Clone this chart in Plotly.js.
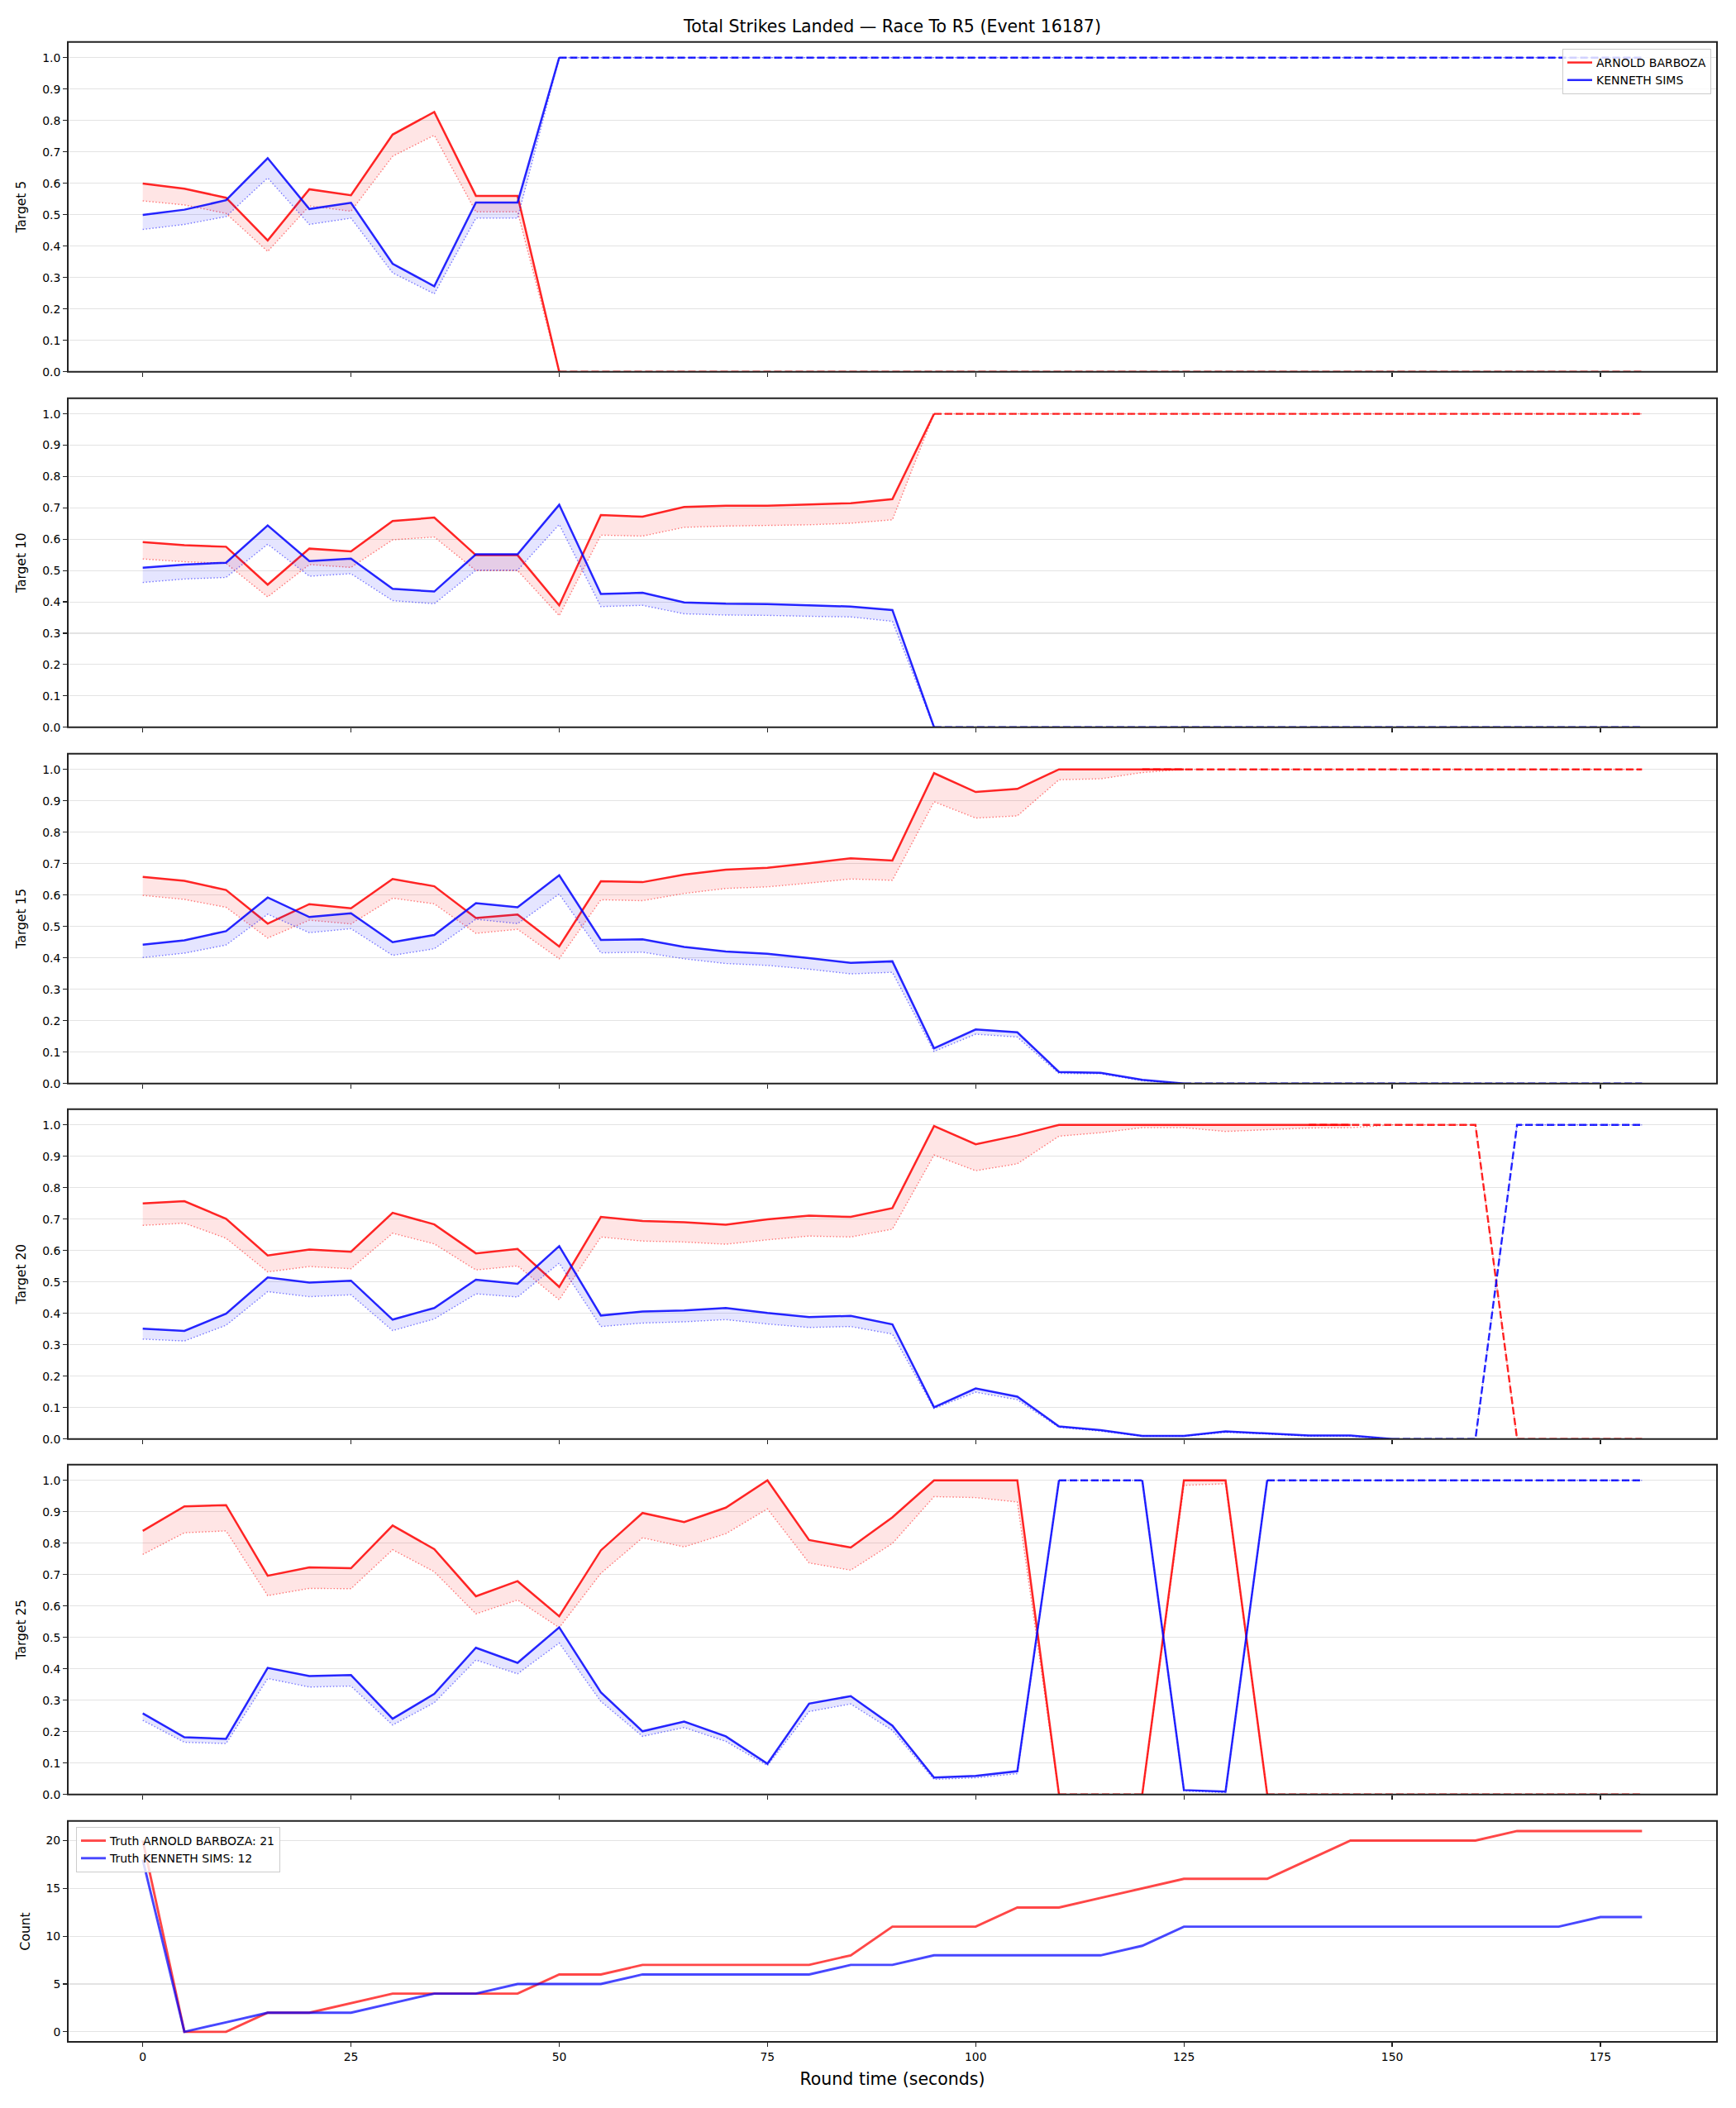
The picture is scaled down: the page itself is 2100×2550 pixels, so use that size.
<!DOCTYPE html>
<html>
<head>
<meta charset="utf-8">
<script src="https://cdn.plot.ly/plotly-3.0.1.min.js"></script>
<style>
  html, body { margin: 0; padding: 0; background: #ffffff; }
  #chart { width: 2100px; height: 2550px; }
</style>
</head>
<body>
<div id="chart"></div>
<script>
// ---- Round time grid (seconds) ----
const times = [0, 5, 10, 15, 20, 25, 30, 35, 40, 45, 50, 55, 60, 65, 70, 75, 80, 85, 90,
  95, 100, 105, 110, 115, 120, 125, 130, 135, 140, 145, 150, 155, 160, 165, 170, 175, 180];

const redName = 'ARNOLD BARBOZA';
const blueName = 'KENNETH SIMS';
const targets = [5, 10, 15, 20, 25];
const xTicks = [0, 25, 50, 75, 100, 125, 150, 175];
const probTicks = [0, 0.1, 0.2, 0.3, 0.4, 0.5, 0.6, 0.7, 0.8, 0.9, 1.0];
const countTicks = [0, 5, 10, 15, 20];

// ---- Target 5: win probability, lower band, settled outcome ----
const t5RedProb = [0.599, 0.583, 0.554, 0.418, 0.581, 0.562, 0.755, 0.827, 0.560, 0.560, 0.000];
const t5RedLow = [0.544, 0.531, 0.504, 0.383, 0.528, 0.511, 0.686, 0.753, 0.509, 0.509, 0.000,
  0, 0, 0, 0, 0, 0, 0, 0, 0, 0, 0, 0, 0, 0, 0, 0, 0, 0, 0, 0, 0, 0, 0, 0, 0, 0];
const t5RedSettled = [null, null, null, null, null, null, null, null, null, null,
  0, 0, 0, 0, 0, 0, 0, 0, 0, 0, 0, 0, 0, 0, 0, 0, 0, 0, 0, 0, 0, 0, 0, 0, 0, 0, 0];
const t5BlueProb = [0.499, 0.516, 0.546, 0.680, 0.518, 0.538, 0.344, 0.272, 0.539, 0.539, 1.000];
const t5BlueLow = [0.453, 0.469, 0.494, 0.617, 0.469, 0.489, 0.315, 0.248, 0.489, 0.489, 1.000,
  1, 1, 1, 1, 1, 1, 1, 1, 1, 1, 1, 1, 1, 1, 1, 1, 1, 1, 1, 1, 1, 1, 1, 1, 1, 1];
const t5BlueSettled = [null, null, null, null, null, null, null, null, null, null,
  1, 1, 1, 1, 1, 1, 1, 1, 1, 1, 1, 1, 1, 1, 1, 1, 1, 1, 1, 1, 1, 1, 1, 1, 1, 1, 1];

// ---- Target 10 ----
const t10RedProb = [0.591, 0.581, 0.576, 0.455, 0.570, 0.561, 0.658, 0.669, 0.549, 0.549, 0.389,
  0.677, 0.672, 0.703, 0.707, 0.707, 0.711, 0.715, 0.728, 1.000];
const t10RedLow = [0.537, 0.528, 0.523, 0.416, 0.519, 0.510, 0.598, 0.607, 0.500, 0.500, 0.356,
  0.613, 0.610, 0.638, 0.642, 0.643, 0.646, 0.651, 0.662, 1.000,
  1, 1, 1, 1, 1, 1, 1, 1, 1, 1, 1, 1, 1, 1, 1, 1, 1];
const t10RedSettled = [null, null, null, null, null, null, null, null, null, null,
  null, null, null, null, null, null, null, null, null,
  1, 1, 1, 1, 1, 1, 1, 1, 1, 1, 1, 1, 1, 1, 1, 1, 1, 1];
const t10BlueProb = [0.509, 0.519, 0.525, 0.644, 0.530, 0.538, 0.442, 0.433, 0.552, 0.552, 0.710,
  0.425, 0.429, 0.398, 0.394, 0.393, 0.389, 0.385, 0.374, 0.000];
const t10BlueLow = [0.462, 0.473, 0.478, 0.584, 0.482, 0.490, 0.404, 0.394, 0.501, 0.501, 0.647,
  0.385, 0.389, 0.362, 0.358, 0.357, 0.354, 0.352, 0.338, 0.000,
  0, 0, 0, 0, 0, 0, 0, 0, 0, 0, 0, 0, 0, 0, 0, 0, 0];
const t10BlueSettled = [null, null, null, null, null, null, null, null, null, null,
  null, null, null, null, null, null, null, null, null,
  0, 0, 0, 0, 0, 0, 0, 0, 0, 0, 0, 0, 0, 0, 0, 0, 0, 0];

// ---- Target 15 ----
const t15RedProb = [0.658, 0.645, 0.616, 0.509, 0.571, 0.558, 0.651, 0.628, 0.527, 0.538, 0.436,
  0.644, 0.641, 0.665, 0.681, 0.687, 0.701, 0.717, 0.710, 0.988, 0.928, 0.938,
  1.000, 1.000, 1.000, 1.000];
const t15RedLow = [0.599, 0.586, 0.561, 0.463, 0.520, 0.508, 0.590, 0.572, 0.478, 0.491, 0.397,
  0.585, 0.582, 0.605, 0.621, 0.626, 0.638, 0.651, 0.647, 0.897, 0.845, 0.852,
  0.967, 0.970, 0.990, 1.000, 1, 1, 1, 1, 1, 1, 1, 1, 1, 1, 1];
const t15RedSettled = [null, null, null, null, null, null, null, null, null, null,
  null, null, null, null, null, null, null, null, null, null, null, null, null, null,
  1, 1, 1, 1, 1, 1, 1, 1, 1, 1, 1, 1, 1];
const t15BlueProb = [0.442, 0.456, 0.485, 0.592, 0.530, 0.542, 0.450, 0.473, 0.574, 0.561, 0.663,
  0.457, 0.459, 0.435, 0.420, 0.413, 0.399, 0.384, 0.389, 0.112, 0.172, 0.163,
  0.037, 0.034, 0.012, 0.000];
const t15BlueLow = [0.401, 0.415, 0.441, 0.539, 0.480, 0.493, 0.408, 0.429, 0.523, 0.509, 0.603,
  0.416, 0.418, 0.397, 0.382, 0.376, 0.364, 0.349, 0.354, 0.102, 0.157, 0.148,
  0.032, 0.031, 0.009, 0.000, 0, 0, 0, 0, 0, 0, 0, 0, 0, 0, 0];
const t15BlueSettled = [null, null, null, null, null, null, null, null, null, null,
  null, null, null, null, null, null, null, null, null, null, null, null, null, null, null,
  0, 0, 0, 0, 0, 0, 0, 0, 0, 0, 0, 0];

// ---- Target 20 ----
const t20RedProb = [0.750, 0.757, 0.701, 0.584, 0.603, 0.596, 0.720, 0.683, 0.591, 0.605, 0.484,
  0.707, 0.694, 0.690, 0.682, 0.699, 0.711, 0.707, 0.735, 0.996, 0.938, 0.966,
  1.000, 1.000, 1.000, 1.000, 1.000, 1.000, 1.000, 1.000];
const t20RedLow = [0.680, 0.687, 0.639, 0.532, 0.549, 0.542, 0.655, 0.621, 0.538, 0.551, 0.443,
  0.643, 0.630, 0.627, 0.620, 0.634, 0.646, 0.643, 0.668, 0.904, 0.854, 0.876,
  0.964, 0.975, 0.991, 0.991, 0.979, 0.984, 0.990, 0.991, 1.000, 1.000, 1.000,
  0.000, 0.000, 0.000, 0.000];
const t20RedSettled = [null, null, null, null, null, null, null, null, null, null,
  null, null, null, null, null, null, null, null, null, null, null, null, null, null,
  null, null, null, null, 1, 1, 1, 1, 1, 0, 0, 0, 0];
const t20BlueProb = [0.351, 0.344, 0.399, 0.514, 0.498, 0.504, 0.380, 0.417, 0.507, 0.494, 0.614,
  0.393, 0.406, 0.409, 0.417, 0.401, 0.388, 0.392, 0.365, 0.101, 0.161, 0.135,
  0.040, 0.028, 0.010, 0.010, 0.024, 0.018, 0.011, 0.011, 0.000];
const t20BlueLow = [0.318, 0.312, 0.362, 0.469, 0.453, 0.459, 0.345, 0.382, 0.462, 0.452, 0.560,
  0.358, 0.369, 0.373, 0.380, 0.366, 0.355, 0.358, 0.334, 0.097, 0.149, 0.125,
  0.037, 0.025, 0.009, 0.009, 0.021, 0.016, 0.009, 0.009, 0.000, 0.000, 0.000,
  1.000, 1.000, 1.000, 1.000];
const t20BlueSettled = [null, null, null, null, null, null, null, null, null, null,
  null, null, null, null, null, null, null, null, null, null, null, null, null, null,
  null, null, null, null, null, null, 0, 0, 0, 1, 1, 1, 1];

// ---- Target 25 ----
const t25RedProb = [0.839, 0.917, 0.921, 0.696, 0.723, 0.720, 0.856, 0.781, 0.631, 0.679, 0.567,
  0.777, 0.896, 0.867, 0.913, 1.000, 0.810, 0.786, 0.882, 1.000, 1.000, 1.000,
  0.000, null, 0.000, 1.000, 1.000, 0.000];
const t25RedLow = [0.764, 0.833, 0.839, 0.633, 0.656, 0.655, 0.779, 0.709, 0.575, 0.619, 0.531,
  0.704, 0.817, 0.788, 0.830, 0.909, 0.737, 0.714, 0.799, 0.948, 0.945, 0.931,
  0.000, 0.000, 0.000, 0.984, 0.989, 0.000, 0, 0, 0, 0, 0, 0, 0, 0, 0];
const t25RedSettled = [null, null, null, null, null, null, null, null, null, null,
  null, null, null, null, null, null, null, null, null, null, null, null,
  0, 0, 0, null, null, 0, 0, 0, 0, 0, 0, 0, 0, 0, 0];
const t25BlueProb = [0.258, 0.182, 0.177, 0.403, 0.377, 0.380, 0.241, 0.320, 0.467, 0.419, 0.532,
  0.325, 0.201, 0.232, 0.185, 0.098, 0.289, 0.313, 0.219, 0.054, 0.059, 0.074,
  1.000, null, 1.000, 0.014, 0.009, 1.000];
const t25BlueLow = [0.236, 0.166, 0.162, 0.369, 0.342, 0.345, 0.221, 0.292, 0.428, 0.384, 0.482,
  0.296, 0.185, 0.213, 0.169, 0.092, 0.264, 0.288, 0.204, 0.048, 0.053, 0.066,
  1.000, 1.000, 1.000, 0.011, 0.006, 1.000, 1, 1, 1, 1, 1, 1, 1, 1, 1];
const t25BlueSettled = [null, null, null, null, null, null, null, null, null, null,
  null, null, null, null, null, null, null, null, null, null, null, null,
  1, 1, 1, null, null, 1, 1, 1, 1, 1, 1, 1, 1, 1, 1];

// ---- Cumulative landed strikes (truth) ----
const truthRed = [20, 0, 0, 2, 2, 3, 4, 4, 4, 4, 6, 6, 7, 7, 7, 7, 7, 8, 11, 11, 11, 13, 13, 14,
  15, 16, 16, 16, 18, 20, 20, 20, 20, 21, 21, 21, 21];
const truthBlue = [18, 0, 1, 2, 2, 2, 3, 4, 4, 5, 5, 5, 6, 6, 6, 6, 6, 7, 7, 8, 8, 8, 8, 8,
  9, 11, 11, 11, 11, 11, 11, 11, 11, 11, 11, 12, 12];

// ---- Styling ----
const FONT = 'DejaVu Sans, Liberation Sans, Arial, sans-serif';
const INK = '#222222';
const style = {
  red:  { line: 'rgba(255,0,0,0.85)', dotted: 'rgba(255,0,0,0.5)', band: 'rgba(255,0,0,0.10)', truth: 'rgba(255,0,0,0.72)' },
  blue: { line: 'rgba(0,0,255,0.85)', dotted: 'rgba(0,0,255,0.5)', band: 'rgba(0,0,255,0.10)', truth: 'rgba(0,0,255,0.72)' }
};

const panels = [
  { target: targets[0], red: [t5RedProb, t5RedLow, t5RedSettled], blue: [t5BlueProb, t5BlueLow, t5BlueSettled] },
  { target: targets[1], red: [t10RedProb, t10RedLow, t10RedSettled], blue: [t10BlueProb, t10BlueLow, t10BlueSettled] },
  { target: targets[2], red: [t15RedProb, t15RedLow, t15RedSettled], blue: [t15BlueProb, t15BlueLow, t15BlueSettled] },
  { target: targets[3], red: [t20RedProb, t20RedLow, t20RedSettled], blue: [t20BlueProb, t20BlueLow, t20BlueSettled] },
  { target: targets[4], red: [t25RedProb, t25RedLow, t25RedSettled], blue: [t25BlueProb, t25BlueLow, t25BlueSettled] }
];

// Closed band polygons between the probability line and its lower bound,
// one polygon per run of points where both are present.
function bandShape(xs, hi, lo) {
  const bx = [], by = [];
  let i = 0;
  const n = xs.length;
  const ok = k => hi[k] != null && lo[k] != null;
  while (i < n) {
    if (!ok(i)) { i++; continue; }
    let j = i;
    while (j + 1 < n && ok(j + 1)) j++;
    if (j > i) {
      for (let k = i; k <= j; k++) { bx.push(xs[k]); by.push(hi[k]); }
      for (let k = j; k >= i; k--) { bx.push(xs[k]); by.push(lo[k]); }
      bx.push(null); by.push(null);
    }
    i = j + 1;
  }
  return { x: bx, y: by };
}

const traces = [];
const axId = k => (k === 1 ? '' : String(k));

panels.forEach((p, idx) => {
  const k = idx + 1;
  const xa = 'x' + axId(k), ya = 'y' + axId(k);
  [['red', redName], ['blue', blueName]].forEach(([side, name]) => {
    const [prob, low, settled] = p[side];
    const c = style[side];
    const band = bandShape(times, prob, low);
    traces.push({
      x: band.x, y: band.y, xaxis: xa, yaxis: ya, type: 'scatter', mode: 'lines',
      fill: 'toself', fillcolor: c.band, line: { width: 0, color: c.band },
      showlegend: false, hoverinfo: 'skip'
    });
    traces.push({
      x: times, y: low, xaxis: xa, yaxis: ya, type: 'scatter', mode: 'lines',
      line: { color: c.dotted, width: 1.4, dash: '1.5px,2.4px' },
      showlegend: false, hoverinfo: 'skip'
    });
    traces.push({
      x: times, y: prob, xaxis: xa, yaxis: ya, type: 'scatter', mode: 'lines',
      name: name, line: { color: c.line, width: 2.5 },
      showlegend: k === 1, legend: 'legend'
    });
    traces.push({
      x: times, y: settled, xaxis: xa, yaxis: ya, type: 'scatter', mode: 'lines',
      line: { color: c.line, width: 2.4, dash: '9px,4px' },
      showlegend: false, hoverinfo: 'skip'
    });
  });
});

// Bottom panel: observed cumulative counts
traces.push({
  x: times, y: truthRed, xaxis: 'x6', yaxis: 'y6', type: 'scatter', mode: 'lines',
  name: 'Truth ' + redName + ': ' + truthRed[truthRed.length - 1],
  line: { color: style.red.truth, width: 2.9 }, legend: 'legend2', showlegend: true
});
traces.push({
  x: times, y: truthBlue, xaxis: 'x6', yaxis: 'y6', type: 'scatter', mode: 'lines',
  name: 'Truth ' + blueName + ': ' + truthBlue[truthBlue.length - 1],
  line: { color: style.blue.truth, width: 2.9 }, legend: 'legend2', showlegend: true
});

// ---- Layout: six stacked panels sharing the time axis ----
const W = 2100, H = 2550;
const plotLeft = 82, plotRight = 2077;
const tops = [50.7, 481.7, 911.7, 1341.7, 1771.7, 2202.8];
const bottoms = [449.7, 879.7, 1310.7, 1740.7, 2170.7, 2470];

const layout = {
  width: W, height: H,
  margin: { l: 0, r: 0, t: 0, b: 0, pad: 0 },
  paper_bgcolor: '#ffffff', plot_bgcolor: '#ffffff',
  font: { family: FONT, size: 14, color: '#000000' },
  hovermode: false,
  title: {
    text: 'Total Strikes Landed \u2014 Race To R5 (Event 16187)',
    x: (plotLeft + plotRight) / 2 / W, xanchor: 'center', xref: 'paper',
    y: 1 - 32 / H, yanchor: 'middle', yref: 'container',
    font: { family: FONT, size: 20.5, color: '#000000' }
  },
  legend: {
    x: 2070 / W, xanchor: 'right', y: 1 - 59 / H, yanchor: 'top',
    bgcolor: 'rgba(255,255,255,0.8)', bordercolor: '#cccccc', borderwidth: 1,
    font: { family: FONT, size: 14, color: '#000000' }, tracegroupgap: 0
  },
  legend2: {
    x: 92 / W, xanchor: 'left', y: 1 - 2210 / H, yanchor: 'top',
    bgcolor: 'rgba(255,255,255,0.8)', bordercolor: '#cccccc', borderwidth: 1,
    font: { family: FONT, size: 14, color: '#000000' }, tracegroupgap: 0
  },
  shapes: []
};

for (let k = 1; k <= 6; k++) {
  const isCount = k === 6;
  layout['xaxis' + axId(k)] = {
    domain: [plotLeft / W, plotRight / W],
    anchor: 'y' + axId(k),
    range: [-9, 189],
    tickmode: 'array', tickvals: xTicks,
    showticklabels: isCount,
    ticks: 'outside', ticklen: 5, tickwidth: 1.2, tickcolor: INK,
    tickfont: { family: FONT, size: 13.9, color: '#000000' },
    showline: false, showgrid: false, zeroline: false,
    title: isCount ? { text: 'Round time (seconds)', font: { family: FONT, size: 20.5, color: '#000000' }, standoff: 12 } : undefined
  };
  layout['yaxis' + axId(k)] = {
    domain: [1 - bottoms[k - 1] / H, 1 - tops[k - 1] / H],
    anchor: 'x' + axId(k),
    range: isCount ? [-1.05, 22.05] : [0, 1.05],
    tickmode: 'array', tickvals: isCount ? countTicks : probTicks,
    tickformat: isCount ? 'd' : '.1f',
    ticks: 'outside', ticklen: 5, tickwidth: 1.2, tickcolor: INK,
    tickfont: { family: FONT, size: 13.9, color: '#000000' },
    showline: false,
    showgrid: true, gridcolor: '#e3e3e3', gridwidth: 1.1, zeroline: false,
    title: {
      text: isCount ? 'Count' : 'Target ' + panels[k - 1].target,
      font: { family: FONT, size: 15.5, color: '#000000' }, standoff: 15
    }
  };
  // Axes frame drawn centred on the plot edge, above the data
  layout.shapes.push({
    type: 'rect', xref: 'x' + axId(k) + ' domain', yref: 'y' + axId(k) + ' domain',
    x0: 0, x1: 1, y0: 0, y1: 1, layer: 'above',
    line: { color: INK, width: 2 }, fillcolor: 'rgba(0,0,0,0)'
  });
}

Plotly.newPlot('chart', traces, layout, { staticPlot: true, displayModeBar: false });
</script>
</body>
</html>
